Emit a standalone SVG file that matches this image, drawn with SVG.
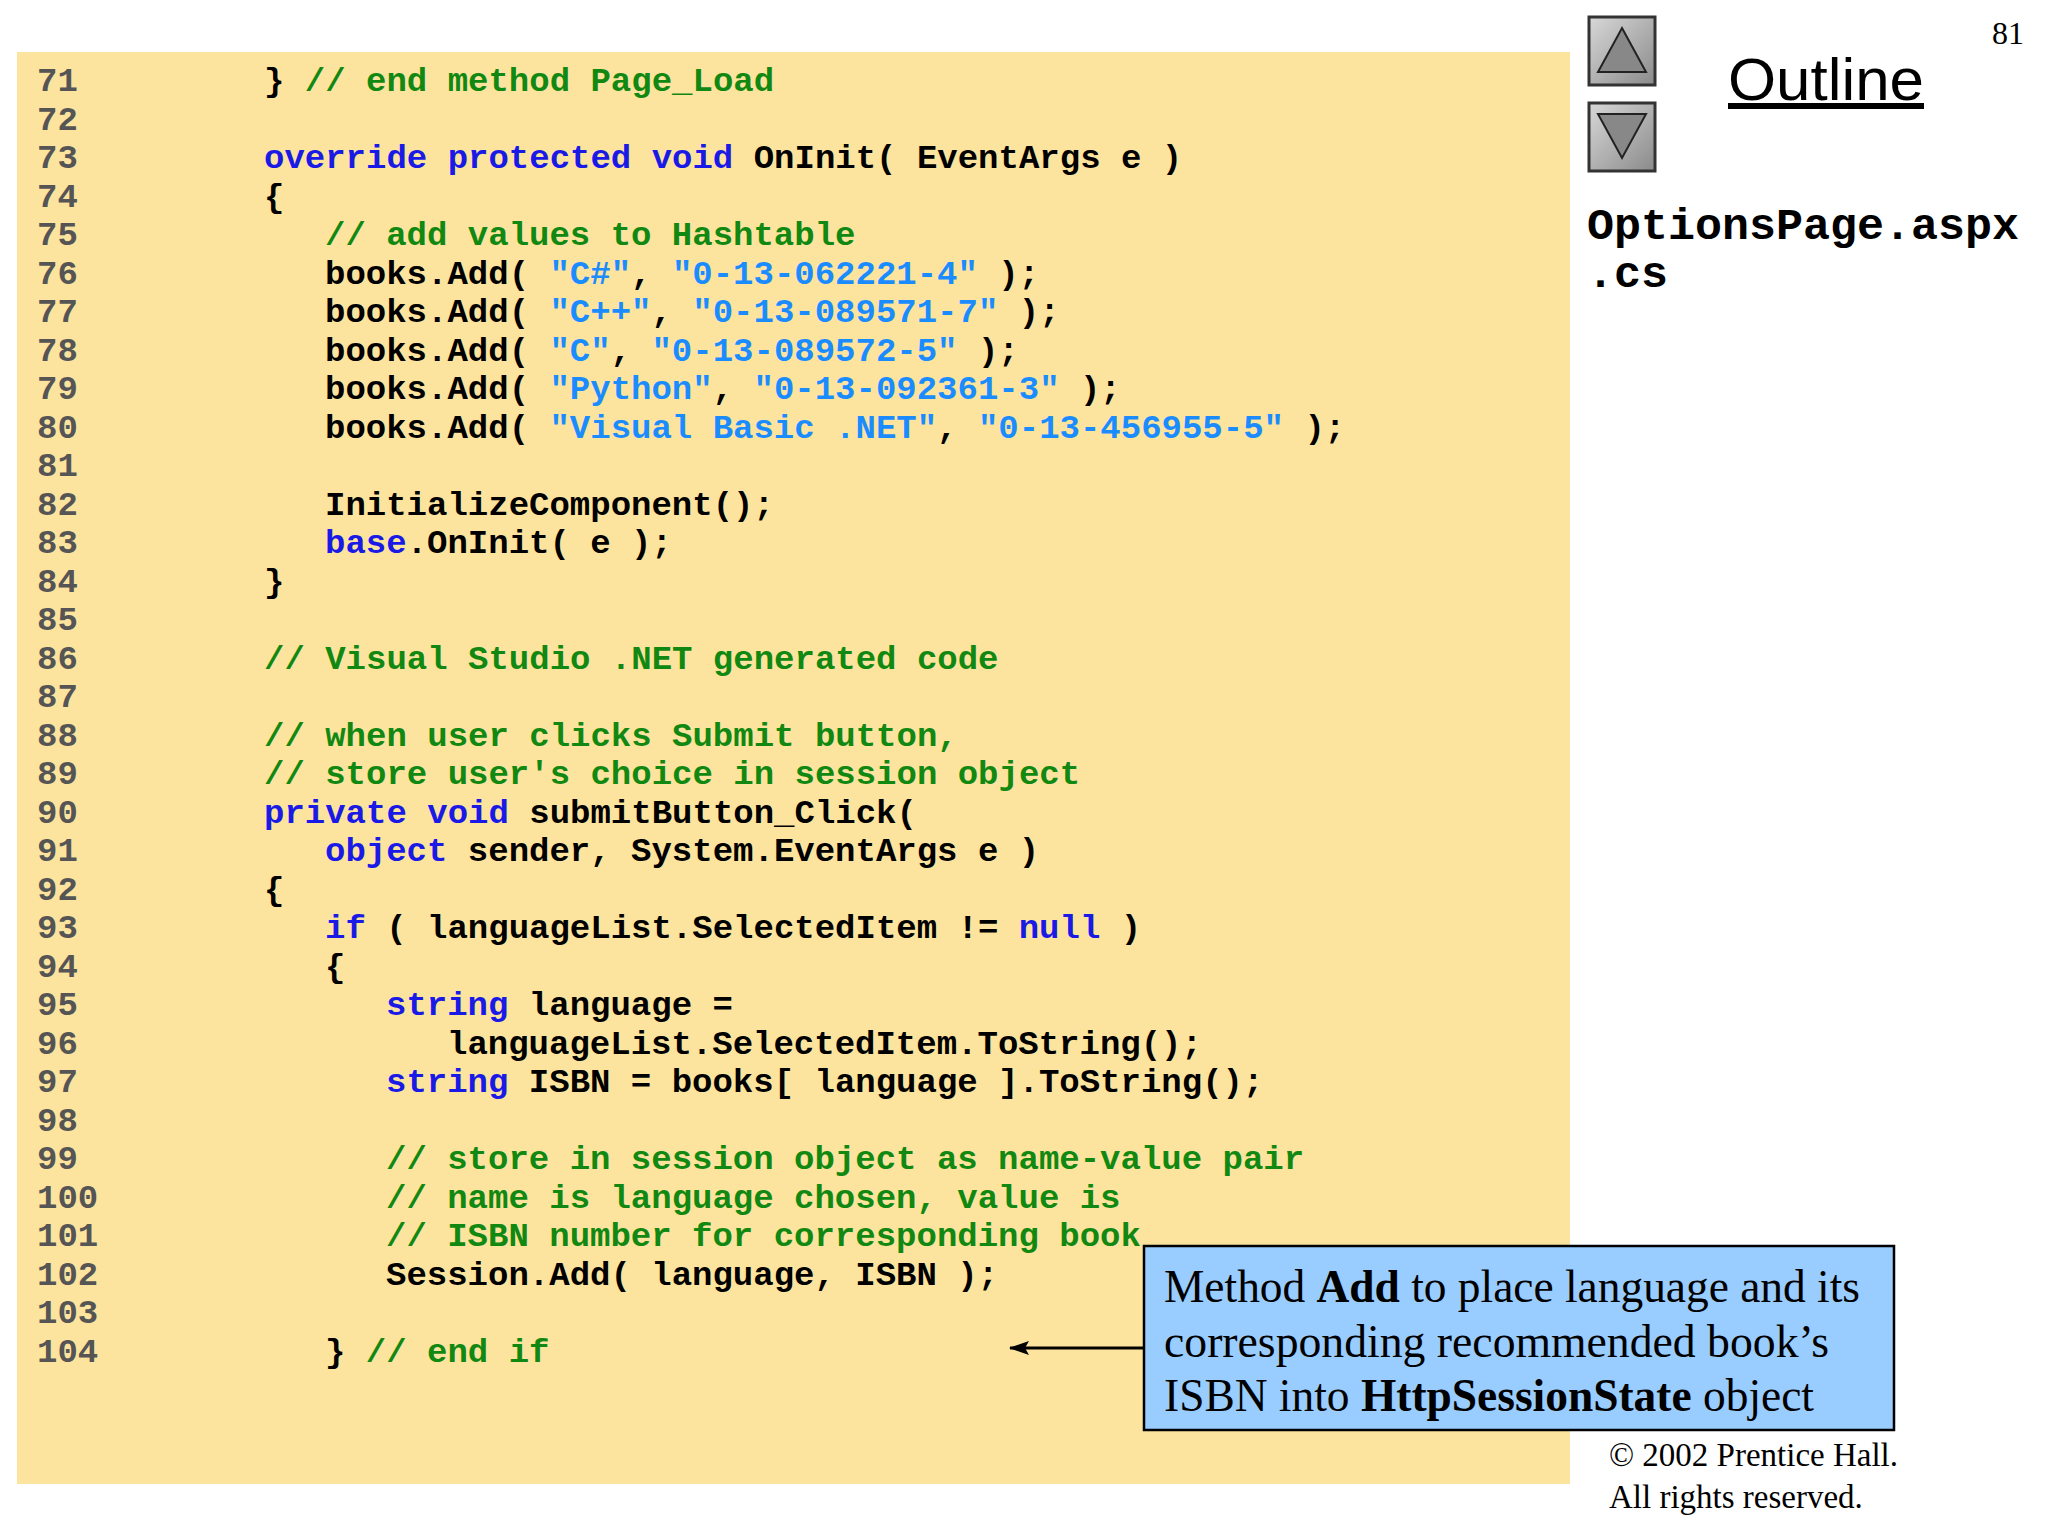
<svg xmlns="http://www.w3.org/2000/svg" width="2048" height="1536" viewBox="0 0 2048 1536">
<defs>
<style>
.c{font-family:"Liberation Mono","Courier New",monospace;font-weight:bold;font-size:34px;fill:#000}
.n{fill:#555555}
.k{fill:#1a1ae6}
.g{fill:#118811}
.s{fill:#1a8cff}
.t{font-family:"Liberation Serif","Times New Roman",serif;fill:#000}
</style>
<marker id="ah" markerWidth="20" markerHeight="14" refX="19" refY="7" orient="auto" markerUnits="userSpaceOnUse"><path d="M0,0 L20,7 L0,14 L4,7 Z" fill="#000"/></marker>
<linearGradient id="bt" x1="0" y1="0" x2="1" y2="1"><stop offset="0" stop-color="#d8d8d8"/><stop offset="1" stop-color="#8a8a8a"/></linearGradient>
</defs>
<rect width="2048" height="1536" fill="#fff"/>
<rect x="17" y="52" width="1553" height="1432" fill="#fde49e"/>
<g id="code" class="c" xml:space="preserve">
<text x="37" y="91"><tspan class="n">71</tspan><tspan x="264">} </tspan><tspan class="g">// end method Page_Load</tspan></text>
<text x="37" y="129.5"><tspan class="n">72</tspan></text>
<text x="37" y="168"><tspan class="n">73</tspan><tspan x="264" class="k">override protected void</tspan> OnInit( EventArgs e )</text>
<text x="37" y="206.5"><tspan class="n">74</tspan><tspan x="264">{</tspan></text>
<text x="37" y="245"><tspan class="n">75</tspan><tspan x="325" class="g">// add values to Hashtable</tspan></text>
<text x="37" y="283.5"><tspan class="n">76</tspan><tspan x="325">books.Add( </tspan><tspan class="s">"C#"</tspan>, <tspan class="s">"0-13-062221-4"</tspan> );</text>
<text x="37" y="322"><tspan class="n">77</tspan><tspan x="325">books.Add( </tspan><tspan class="s">"C++"</tspan>, <tspan class="s">"0-13-089571-7"</tspan> );</text>
<text x="37" y="360.5"><tspan class="n">78</tspan><tspan x="325">books.Add( </tspan><tspan class="s">"C"</tspan>, <tspan class="s">"0-13-089572-5"</tspan> );</text>
<text x="37" y="399"><tspan class="n">79</tspan><tspan x="325">books.Add( </tspan><tspan class="s">"Python"</tspan>, <tspan class="s">"0-13-092361-3"</tspan> );</text>
<text x="37" y="437.5"><tspan class="n">80</tspan><tspan x="325">books.Add( </tspan><tspan class="s">"Visual Basic .NET"</tspan>, <tspan class="s">"0-13-456955-5"</tspan> );</text>
<text x="37" y="476"><tspan class="n">81</tspan></text>
<text x="37" y="514.5"><tspan class="n">82</tspan><tspan x="325">InitializeComponent();</tspan></text>
<text x="37" y="553"><tspan class="n">83</tspan><tspan x="325" class="k">base</tspan>.OnInit( e );</text>
<text x="37" y="591.5"><tspan class="n">84</tspan><tspan x="264">}</tspan></text>
<text x="37" y="630"><tspan class="n">85</tspan></text>
<text x="37" y="668.5"><tspan class="n">86</tspan><tspan x="264" class="g">// Visual Studio .NET generated code</tspan></text>
<text x="37" y="707"><tspan class="n">87</tspan></text>
<text x="37" y="745.5"><tspan class="n">88</tspan><tspan x="264" class="g">// when user clicks Submit button,</tspan></text>
<text x="37" y="784"><tspan class="n">89</tspan><tspan x="264" class="g">// store user's choice in session object</tspan></text>
<text x="37" y="822.5"><tspan class="n">90</tspan><tspan x="264" class="k">private void</tspan> submitButton_Click(</text>
<text x="37" y="861"><tspan class="n">91</tspan><tspan x="325" class="k">object</tspan> sender, System.EventArgs e )</text>
<text x="37" y="899.5"><tspan class="n">92</tspan><tspan x="264">{</tspan></text>
<text x="37" y="938"><tspan class="n">93</tspan><tspan x="325" class="k">if</tspan> ( languageList.SelectedItem != <tspan class="k">null</tspan> )</text>
<text x="37" y="976.5"><tspan class="n">94</tspan><tspan x="325">{</tspan></text>
<text x="37" y="1015"><tspan class="n">95</tspan><tspan x="386" class="k">string</tspan> language =</text>
<text x="37" y="1053.5"><tspan class="n">96</tspan><tspan x="447">languageList.SelectedItem.ToString();</tspan></text>
<text x="37" y="1092"><tspan class="n">97</tspan><tspan x="386" class="k">string</tspan> ISBN = books[ language ].ToString();</text>
<text x="37" y="1130.5"><tspan class="n">98</tspan></text>
<text x="37" y="1169"><tspan class="n">99</tspan><tspan x="386" class="g">// store in session object as name-value pair</tspan></text>
<text x="37" y="1207.5"><tspan class="n">100</tspan><tspan x="386" class="g">// name is language chosen, value is</tspan></text>
<text x="37" y="1246"><tspan class="n">101</tspan><tspan x="386" class="g">// ISBN number for corresponding book</tspan></text>
<text x="37" y="1284.5"><tspan class="n">102</tspan><tspan x="386">Session.Add( language, ISBN );</tspan></text>
<text x="37" y="1323"><tspan class="n">103</tspan></text>
<text x="37" y="1361.5"><tspan class="n">104</tspan><tspan x="325">} </tspan><tspan class="g">// end if</tspan></text>
</g>
<g id="nav">
<rect x="1589" y="17" width="66" height="68" fill="url(#bt)" stroke="#333" stroke-width="3"/>
<path d="M1622,28 L1646,72 L1598,72 Z" fill="#888" stroke="#222" stroke-width="2"/>
<rect x="1589" y="103" width="66" height="68" fill="url(#bt)" stroke="#333" stroke-width="3"/>
<path d="M1598,114 L1646,114 L1622,158 Z" fill="#888" stroke="#222" stroke-width="2"/>
<text x="1728" y="100" font-family="Liberation Sans, Arial, sans-serif" font-size="60" fill="#000" text-decoration="underline" textLength="196" lengthAdjust="spacingAndGlyphs">Outline</text>
<text x="2024" y="44" class="t" font-size="32" text-anchor="end">81</text>
<text x="1587" y="239" class="c" style="font-size:45px">OptionsPage.aspx</text>
<text x="1587" y="287" class="c" style="font-size:45px">.cs</text>
</g>
<g id="connectors">
<line x1="1144" y1="1348" x2="1010" y2="1348" stroke="#000" stroke-width="3" marker-end="url(#ah)"/>
</g>
<g id="callout">
<rect x="1144" y="1246" width="750" height="184" fill="#99ccff" stroke="#000" stroke-width="2.5"/>
<text x="1164" y="1302" class="t" font-size="46" textLength="696" lengthAdjust="spacingAndGlyphs">Method <tspan font-weight="bold">Add</tspan> to place language and its</text>
<text x="1164" y="1357" class="t" font-size="46" textLength="665" lengthAdjust="spacingAndGlyphs">corresponding recommended book’s</text>
<text x="1164" y="1411" class="t" font-size="46" textLength="650" lengthAdjust="spacingAndGlyphs">ISBN into <tspan font-weight="bold">HttpSessionState</tspan> object</text>
</g>
<g id="footer">
<text x="1609" y="1466" class="t" font-size="33">© 2002 Prentice Hall.</text>
<text x="1609" y="1508" class="t" font-size="33">All rights reserved.</text>
</g>
</svg>
